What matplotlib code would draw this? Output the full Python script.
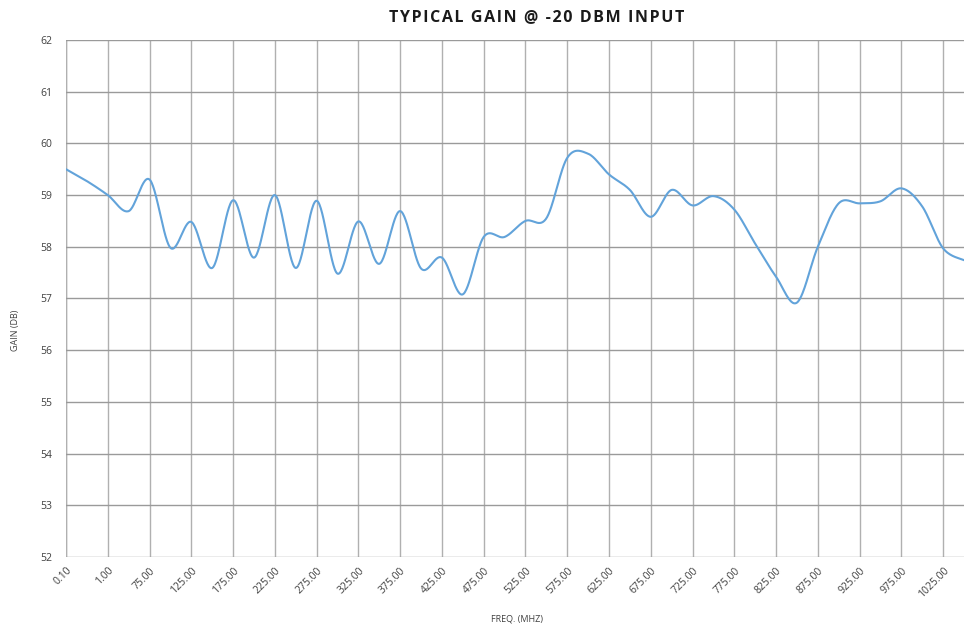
import numpy as np
import matplotlib
matplotlib.use("Agg")
import matplotlib.pyplot as plt

# Categories (MHz) - Excel-like category axis
freqs = ["0.10", "0.50", "1.00", "50.00"] + [f"{f:.2f}" for f in range(75, 1051, 25)]
gain = [59.5, 59.27, 59.0, 58.69, 59.3, 57.98, 58.48, 57.59, 58.9, 57.79,
        59.0, 57.59, 58.89, 57.48, 58.49, 57.67, 58.69, 57.58, 57.79, 57.08,
        58.19, 58.19, 58.5, 58.55, 59.72, 59.8, 59.4, 59.1, 58.58, 59.1,
        58.8, 58.98, 58.72, 58.06, 57.42, 56.92, 58.0, 58.84, 58.84, 58.88,
        59.13, 58.78, 57.97, 57.74]
yticks = [52, 53, 54, 55, 56, 57, 58, 59, 60, 61, 62]

title = "TYPICAL GAIN @ -20 DBM INPUT"
xlabel = "FREQ. (MHZ)"
ylabel = "GAIN (DB)"


def smooth(xs, ys, n=30):
    """Catmull-Rom style Bezier smoothing (like Excel smoothed line)."""
    xs = np.asarray(xs, float)
    ys = np.asarray(ys, float)
    px = np.concatenate([[xs[0]], xs, [xs[-1]]])
    py = np.concatenate([[ys[0]], ys, [ys[-1]]])
    ox, oy = [], []
    t = np.linspace(0, 1, n, endpoint=False)
    for i in range(1, len(px) - 2):
        p0 = np.array([px[i], py[i]])
        p3 = np.array([px[i + 1], py[i + 1]])
        c1 = p0 + (np.array([px[i + 1], py[i + 1]]) - np.array([px[i - 1], py[i - 1]])) / 6
        c2 = p3 - (np.array([px[i + 2], py[i + 2]]) - np.array([px[i], py[i]])) / 6
        b = ((1 - t) ** 3)[:, None] * p0 + (3 * (1 - t) ** 2 * t)[:, None] * c1 \
            + (3 * (1 - t) * t ** 2)[:, None] * c2 + (t ** 3)[:, None] * p3
        ox.extend(b[:, 0]); oy.extend(b[:, 1])
    ox.append(xs[-1]); oy.append(ys[-1])
    return np.array(ox), np.array(oy)


plt.rcParams['font.family'] = ['Open Sans', 'DejaVu Sans']
fig = plt.figure(figsize=(9.64, 6.3), dpi=100)
ax = fig.add_axes([0.0685, 0.116, 0.9315, 0.8205])

x = np.arange(len(freqs))
sx, sy = smooth(x, gain)
ax.plot(sx, sy, color="#62A3DA", lw=1.5, solid_capstyle='round', zorder=3)

ax.set_xlim(0, len(freqs) - 1)
ax.set_ylim(52, 62)
ax.set_yticks(yticks)
ax.set_yticklabels([str(v) for v in yticks], fontsize=7.5, color="#404040")
ax.set_xticks(x[::2])
ax.set_xticklabels(freqs[::2], rotation=45, ha='right', rotation_mode='anchor',
                   fontsize=7.5, color="#404040")
ax.tick_params(axis='both', length=0)
ax.tick_params(axis='y', pad=10)
ax.tick_params(axis='x', pad=6)

ax.grid(axis='y', color="#9a9a9a", lw=1.0)
ax.grid(axis='x', color="#b0b0b0", lw=1.0)
ax.set_axisbelow(True)
for s in ax.spines.values():
    s.set_visible(False)
ax.axvline(0, color="#b0b0b0", lw=1.0, zorder=0)

# letter-spaced title
spaced = "\u200a".join(title)
fig.text(0.557, 0.973, spaced, ha='center', va='center', fontsize=11.5,
         fontweight='bold', color="#1a1a1a")
fig.text(0.536, 0.017, xlabel, ha='center', va='center', fontsize=6.5, color="#404040")
fig.text(0.016, 0.475, ylabel, ha='center', va='center', rotation=90, fontsize=6.5,
         color="#404040")

fig.savefig("out.png", dpi=100)
